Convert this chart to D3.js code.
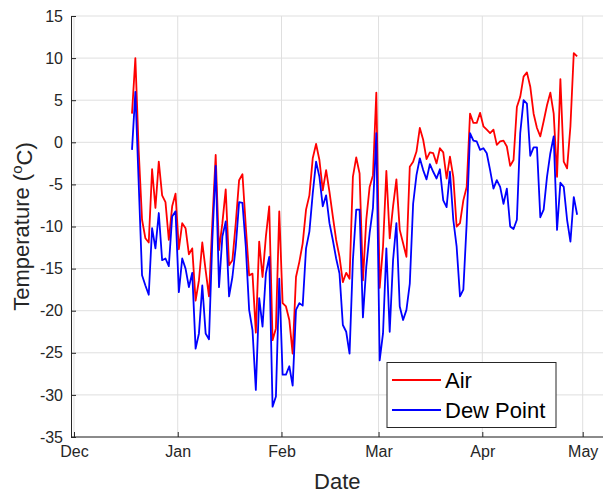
<!DOCTYPE html>
<html>
<head>
<meta charset="utf-8">
<script src="https://cdn.jsdelivr.net/npm/d3@7/dist/d3.min.js"></script>
<style>
  body { margin: 0; background: #fff; }
  text { font-family: "Liberation Sans", Arial, Helvetica, sans-serif; }
</style>
</head>
<body>
<svg id="chart" width="603" height="493"></svg>
<script>
// daily readings, first one on 18 Dec 2019
const firstDay = Date.UTC(2019, 11, 18, 8);

const airTemp = [
  3.4, 10.0, -1.0, -9.2, -11.4, -11.9, -3.2, -7.8, -2.3, -6.3, -7.1, -11.6, -7.6, -6.1, -12.7, -9.6, -10.2, -13.3, -12.6, -18.8, -16.4, -11.9,
  -15.2, -18.3, -9.6, -1.5, -12.8, -9.6, -5.6, -14.6, -14.0, -9.6, -4.5, -3.8, -10.0, -15.8, -15.6, -22.6, -11.8, -16.0, -11.2, -7.6, -23.5, -22.1,
  -8.2, -19.1, -19.5, -21.1, -25.1, -16.0, -14.2, -12.0, -8.0, -6.3, -1.9, -0.2, -2.1, -5.7, -3.3, -5.9, -8.8, -11.6, -13.6, -16.6, -15.5, -16.2, -4.1,
  -1.8, -3.7, -16.4, -9.2, -5.3, -3.9, 5.9, -17.3, -12.4, -3.4, -11.4, -7.6, -4.4, -10.4, -12.0, -13.6, -2.9, -2.3, -1.1, 1.7, 0.3, -2.0,
  -1.2, -1.3, -2.5, -0.7, -1.2, -4.3, -1.7, -4.1, -10.0, -9.6, -6.9, -5.3, 3.4, 2.3, 2.3, 3.5, 1.9, 1.5, 1.1, 1.5, -0.3, 0.1, 0.2,
  -0.5, -2.8, -2.1, 4.2, 5.4, 7.8, 8.3, 6.6, 3.4, 1.7, 0.7, 2.5, 4.4, 5.9, 3.4, -4.1, 7.5, -2.3, -3.1, 1.9, 10.6, 10.2
];

const dewPoint = [
  -0.9, 6.0, -4.9, -15.8, -17.0, -18.1, -10.2, -12.6, -8.4, -14.0, -13.8, -14.7, -8.8, -8.2, -17.8, -13.8, -15.0, -17.2, -15.5, -24.5, -22.7, -17.0,
  -22.7, -23.4, -11.6, -2.8, -17.2, -11.2, -9.4, -18.3, -16.0, -12.4, -7.1, -7.2, -12.4, -19.9, -22.3, -29.4, -18.5, -21.9, -15.6, -13.6, -31.4, -30.2,
  -16.2, -27.6, -27.6, -26.6, -28.9, -19.9, -19.1, -19.4, -12.6, -10.6, -6.1, -2.3, -4.1, -7.6, -6.3, -9.6, -11.6, -13.8, -15.6, -21.7, -22.5, -25.1, -14.0,
  -8.0, -8.0, -20.8, -14.8, -10.8, -7.8, 1.1, -25.9, -22.7, -12.6, -22.5, -14.0, -9.6, -19.5, -21.1, -19.9, -16.8, -7.3, -3.9, -1.9, -3.3, -4.4,
  -2.6, -3.5, -4.3, -3.2, -6.9, -7.7, -3.5, -9.2, -12.4, -18.3, -17.5, -9.6, 1.1, 0.2, 0.1, -0.9, -0.7, -1.3, -3.3, -5.5, -4.5, -5.3, -7.3,
  -5.5, -10.0, -10.3, -9.2, 1.1, 5.0, 4.6, -1.6, -0.6, -0.6, -8.9, -8.0, -4.1, -1.3, 0.7, -10.4, -4.8, -5.3, -9.2, -11.8, -6.5, -8.6
];

const seriesNames = ["Air", "Dew Point"];
const seriesColors = ["#ff0000", "#0000ff"];
const yTicks = [-35, -30, -25, -20, -15, -10, -5, 0, 5, 10, 15];
const monthTicks = [
  Date.UTC(2019, 11, 1), Date.UTC(2020, 0, 1), Date.UTC(2020, 1, 1),
  Date.UTC(2020, 2, 1), Date.UTC(2020, 3, 1), Date.UTC(2020, 4, 1)
].map(t => new Date(t));

const axisColor = "#262626";
const gridColor = "#dfdfdf";
const plotLeft = 71, plotRight = 603, plotTop = 16, plotBottom = 437;

const svg = d3.select("#chart");

const x = d3.scaleUtc()
  .domain([monthTicks[0], monthTicks[monthTicks.length - 1]])
  .range([74, 582.7]);

const y = d3.scaleLinear()
  .domain([-35, 15])
  .range([plotBottom, plotTop]);

// grid lines
svg.append("g")
  .selectAll("line.vgrid")
  .data(monthTicks)
  .enter()
  .append("line")
  .attr("x1", d => x(d)).attr("x2", d => x(d))
  .attr("y1", plotTop).attr("y2", plotBottom)
  .attr("stroke", gridColor).attr("stroke-width", 1);

svg.append("g")
  .selectAll("line.hgrid")
  .data(yTicks)
  .enter()
  .append("line")
  .attr("x1", plotLeft).attr("x2", plotRight)
  .attr("y1", d => y(d)).attr("y2", d => y(d))
  .attr("stroke", gridColor).attr("stroke-width", 1);

// the two series
const line = d3.line()
  .x((d, i) => x(new Date(firstDay + i * 86400000)))
  .y(d => y(d));

[airTemp, dewPoint].forEach(function(values, k) {
  svg.append("path")
    .datum(values)
    .attr("d", line)
    .attr("fill", "none")
    .attr("stroke", seriesColors[k])
    .attr("stroke-width", 1.8)
    .attr("stroke-linejoin", "round");
});

// axes, ticks pointing inwards like matlab
const xAxis = svg.append("g")
  .attr("transform", "translate(0," + plotBottom + ")")
  .call(d3.axisBottom(x)
    .tickValues(monthTicks)
    .tickFormat(d3.utcFormat("%b"))
    .tickSizeInner(-5)
    .tickSizeOuter(0)
    .tickPadding(9));
xAxis.select(".domain").remove();
xAxis.append("line")
  .attr("x1", plotLeft).attr("x2", plotRight)
  .attr("stroke", axisColor);

const yAxis = svg.append("g")
  .attr("transform", "translate(" + plotLeft + ",0)")
  .call(d3.axisLeft(y)
    .tickValues(yTicks)
    .tickFormat(d => String(d)) // plain hyphen minus
    .tickSizeInner(-5)
    .tickSizeOuter(0)
    .tickPadding(8));

[xAxis, yAxis].forEach(function(ax) {
  ax.selectAll(".domain, line").attr("stroke", axisColor);
  ax.selectAll("text")
    .attr("fill", axisColor)
    .style("font-size", "16px");
});

// axis titles
svg.append("text")
  .attr("x", x(monthTicks[0]) + (x(monthTicks[5]) - x(monthTicks[0])) / 2 + 9)
  .attr("y", 489)
  .attr("text-anchor", "middle")
  .attr("fill", axisColor)
  .style("font-size", "22px")
  .text("Date");

const yTitle = svg.append("text")
  .attr("transform", "translate(29," + (plotTop + plotBottom) / 2 + ") rotate(-90)")
  .attr("text-anchor", "middle")
  .attr("fill", axisColor)
  .style("font-size", "22px");
yTitle.append("tspan").text("Temperature (");
yTitle.append("tspan").attr("dy", "-0.45em").style("font-size", "15px").text("o");
yTitle.append("tspan").attr("dy", "0.45em").text("C)");

// legend
const legend = svg.append("g").attr("transform", "translate(387,362.5)");
legend.append("rect")
  .attr("width", 169).attr("height", 65)
  .attr("fill", "#fff")
  .attr("stroke", axisColor).attr("stroke-width", 1);

const legendItem = legend.selectAll("g.item")
  .data(seriesNames)
  .enter()
  .append("g")
  .attr("transform", (d, i) => "translate(0," + (17.5 + i * 30) + ")");
legendItem.append("line")
  .attr("x1", 5).attr("x2", 54)
  .attr("stroke", (d, i) => seriesColors[i])
  .attr("stroke-width", 1.8);
legendItem.append("text")
  .attr("x", 58)
  .attr("dy", "0.36em")
  .attr("fill", "#000")
  .style("font-size", "22px")
  .text(d => d);
</script>
</body>
</html>
